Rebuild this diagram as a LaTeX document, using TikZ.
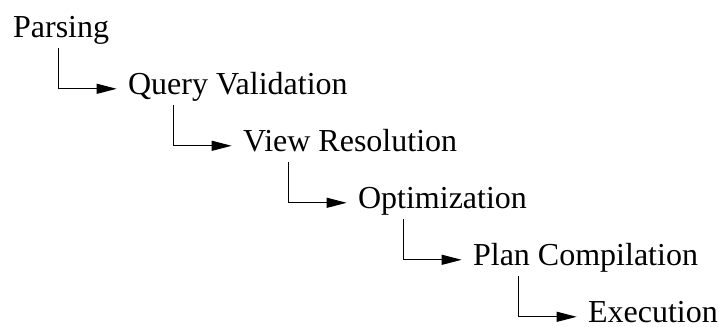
\documentclass[tikz,border=0pt]{standalone}
\usepackage{fontspec}
\setmainfont{Liberation Serif}
\usepackage{tikz}
\usetikzlibrary{positioning}
\usetikzlibrary{arrows.meta}
\tikzset{
    stage/.style = {anchor=base west, inner sep=0pt, font=\fontsize{16}{19}\selectfont},
    flow/.style = {-{Triangle[length=10pt,width=5pt]}, line width=0.55pt}}

\begin{document}
\begin{tikzpicture}[node distance = 28.5pt and 57.5pt, on grid]
    \useasboundingbox (0,0) rectangle (359.5pt,163.5pt);
    \node[stage] (P) at (6.35pt,144.85pt) {Parsing};
    \node[stage] (Q) [below right = of P.base west, anchor=base west] {Query Validation};
    \node[stage] (V) [below right = of Q.base west, anchor=base west] {View Resolution};
    \node[stage] (O) [below right = of V.base west, anchor=base west] {Optimization};
    \node[stage] (C) [below right = of O.base west, anchor=base west] {Plan Compilation};
    \node[stage] (E) [below right = of C.base west, anchor=base west] {Execution};
    \draw[flow] ([xshift=22.75pt,yshift=-5.4pt]P.base west) |- ([xshift=-5.5pt,yshift=2.75pt]Q.base west);
    \draw[flow] ([xshift=22.75pt,yshift=-5.4pt]Q.base west) |- ([xshift=-5.5pt,yshift=2.75pt]V.base west);
    \draw[flow] ([xshift=22.75pt,yshift=-5.4pt]V.base west) |- ([xshift=-5.5pt,yshift=2.75pt]O.base west);
    \draw[flow] ([xshift=22.75pt,yshift=-5.4pt]O.base west) |- ([xshift=-5.5pt,yshift=2.75pt]C.base west);
    \draw[flow] ([xshift=22.75pt,yshift=-5.4pt]C.base west) |- ([xshift=-5.5pt,yshift=2.75pt]E.base west);
\end{tikzpicture}
\end{document}
